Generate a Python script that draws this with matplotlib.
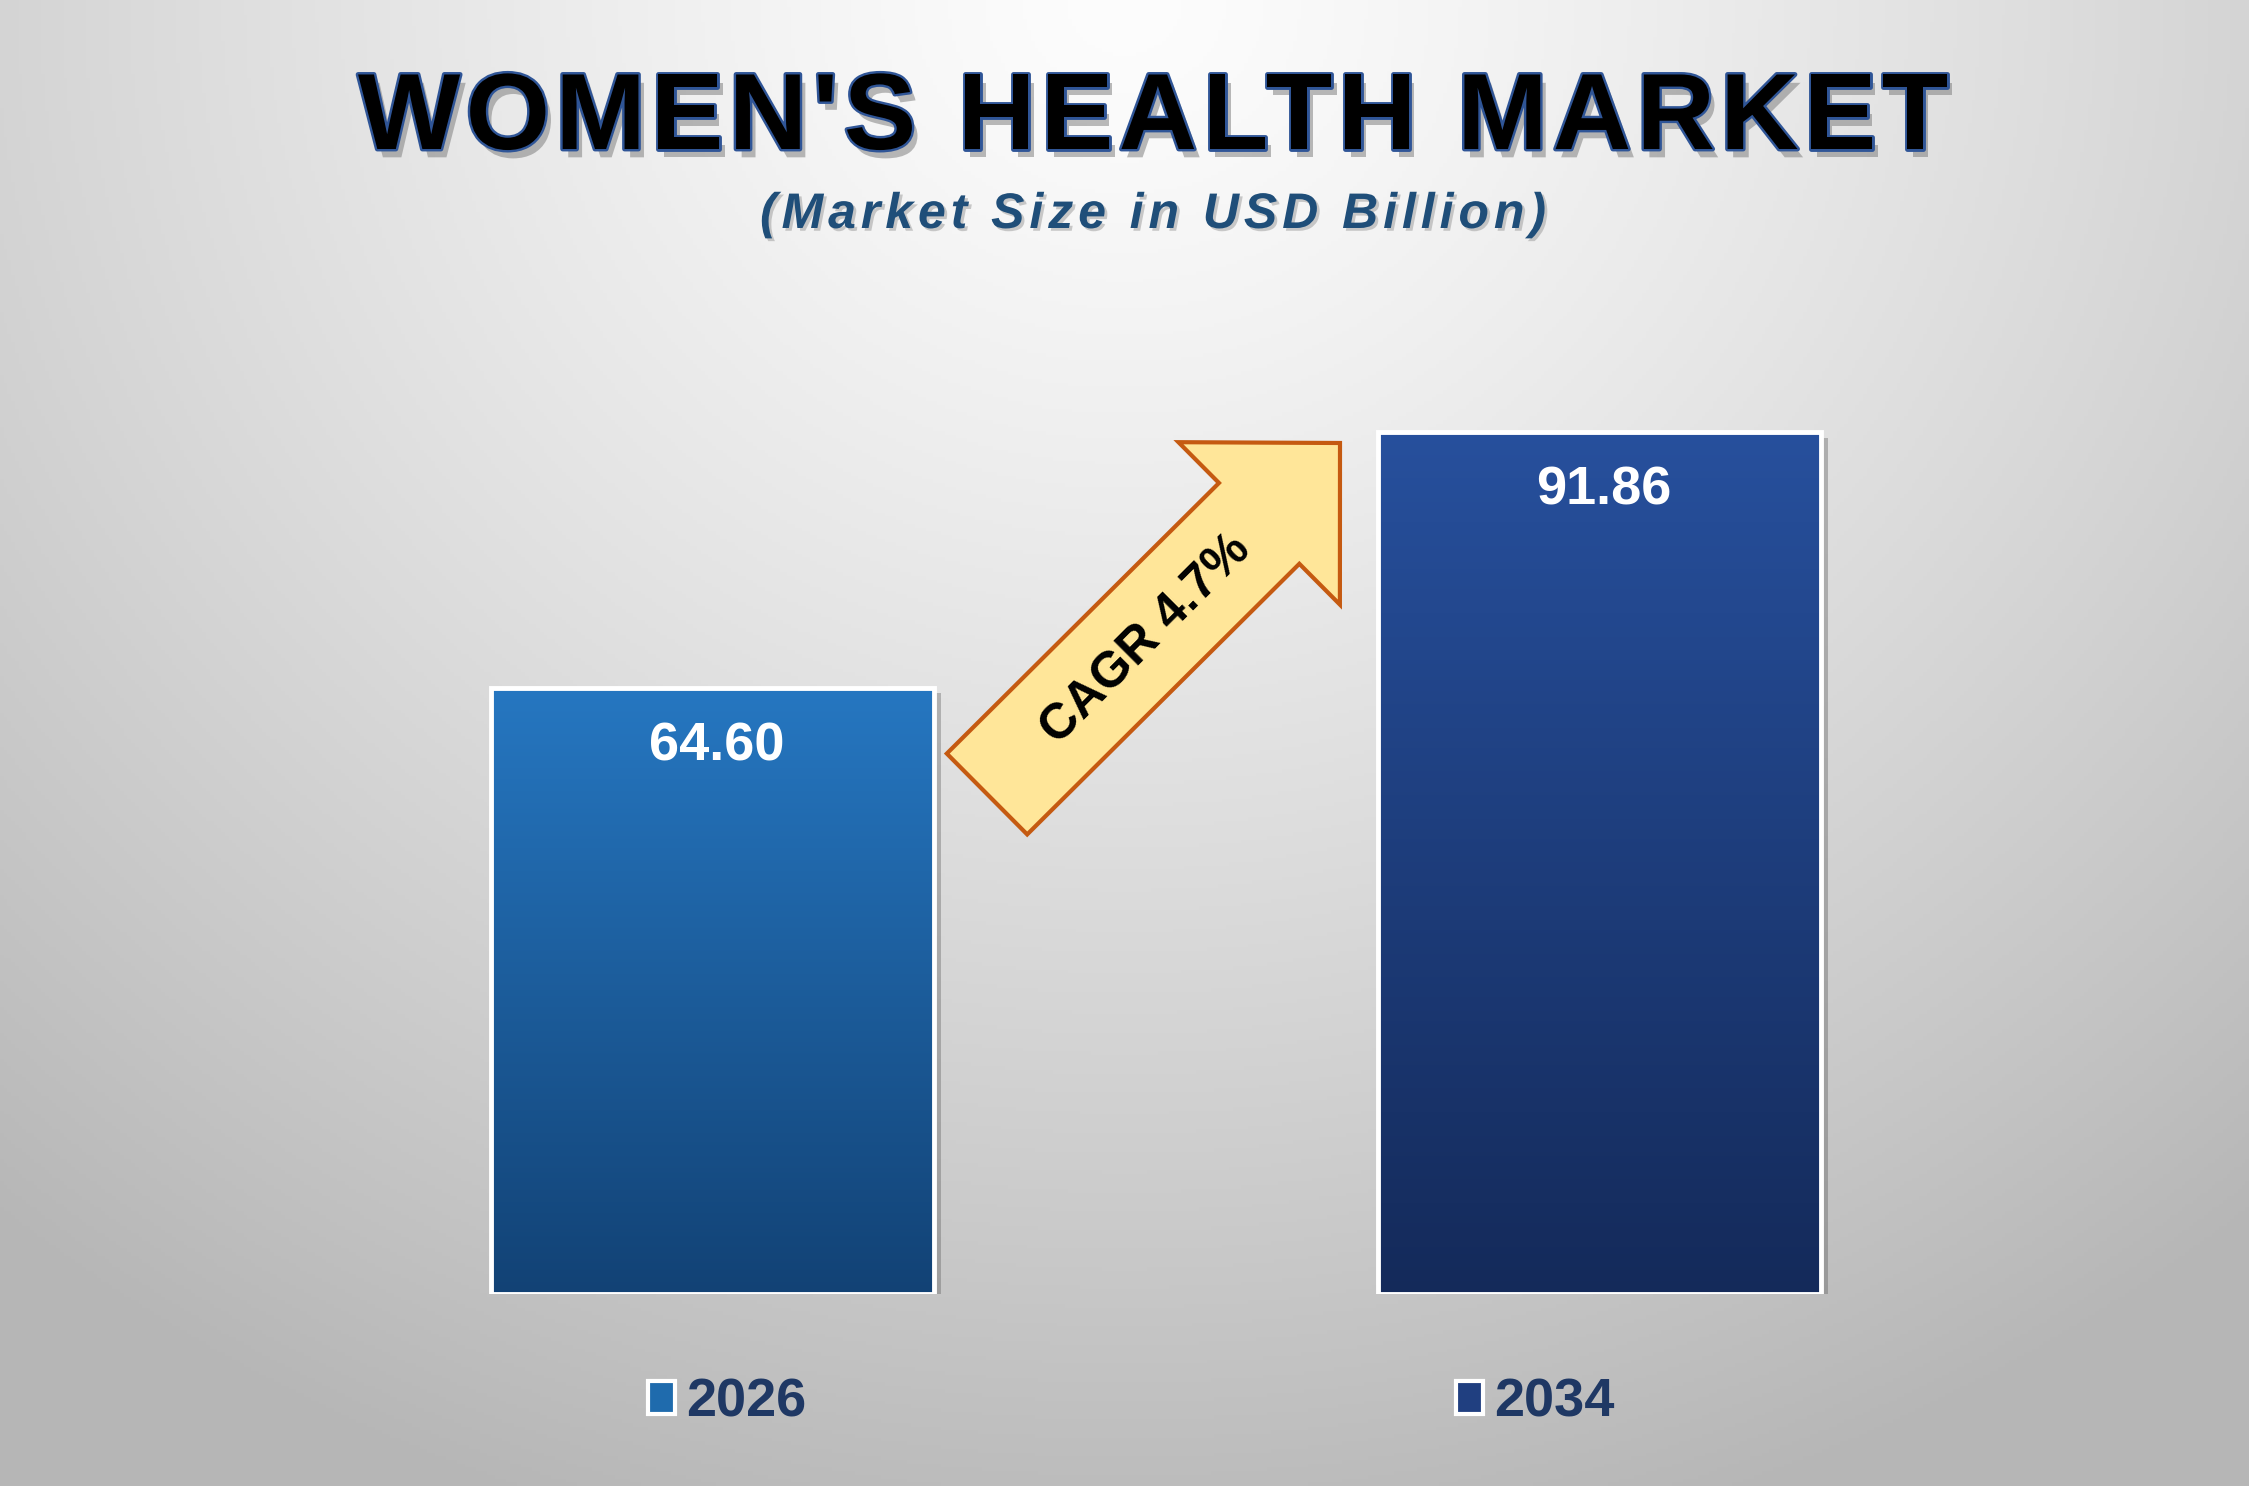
import numpy as np
import matplotlib
matplotlib.use("Agg")
import matplotlib.pyplot as plt
import matplotlib.patheffects as pe
from matplotlib.colors import LinearSegmentedColormap, to_rgb
from matplotlib.patches import FancyArrow, Patch, Rectangle
from matplotlib.font_manager import FontProperties

plt.rcParams['font.family'] = ['Liberation Sans', 'DejaVu Sans']

# Datos
years = ['2026', '2034']
values = [64.60, 91.86]
cagr_label = 'CAGR 4.7%'
title = "WOMEN'S HEALTH MARKET"
subtitle = '(Market Size in USD Billion)'

# Colores (arriba, abajo) del degradado de cada barra
bar_top = ['#2677c1', '#27509d']
bar_bottom = ['#124275', '#142a5a']
legend_colors = ['#1f6bad', '#203f80']

W, H = 2249, 1486
fig = plt.figure(figsize=(W / 100, H / 100), dpi=100)

# Fondo con degradado radial
bg = fig.add_axes([0, 0, 1, 1])
bg.set_axis_off()
yy, xx = np.mgrid[0:1:400j, 0:1:600j]
d = np.sqrt(((xx - 0.5) / 0.78) ** 2 + (yy / 1.08) ** 2)
d = np.clip(d, 0, 1) ** 1.25
c0, c1 = np.array(to_rgb('#fdfdfd')), np.array(to_rgb('#b6b6b6'))
img = c0[None, None, :] * (1 - d[..., None]) + c1[None, None, :] * d[..., None]
bg.imshow(img, extent=[0, 1, 1, 0], aspect='auto')
bg.set_xlim(0, 1)
bg.set_ylim(1, 0)

# Ejes principales (barras)
base_px = 192
ax = fig.add_axes([0, base_px / H, 1, 1 - base_px / H])
ax.patch.set_alpha(0)
ax.set_axis_off()
x = np.arange(len(years))
bars = ax.bar(x, values, width=0.5, color=legend_colors, zorder=1,
              path_effects=[pe.SimplePatchShadow(offset=(5, -4), shadow_rgbFace='#555555', alpha=0.35),
                            pe.Normal()])
for i, b in enumerate(bars):
    cmap = LinearSegmentedColormap.from_list('g%d' % i, [bar_bottom[i], bar_top[i]])
    grad = np.linspace(1, 0, 256).reshape(-1, 1)
    x0, y0 = b.get_xy()
    ax.imshow(grad, extent=[x0, x0 + b.get_width(), y0, y0 + b.get_height()],
              aspect='auto', cmap=cmap, clip_path=b, zorder=2)
    ax.add_patch(Rectangle(b.get_xy(), b.get_width(), b.get_height(), fill=False,
                           ec='white', lw=3.5, zorder=3))
    ax.annotate(f'{values[i]:.2f}', xy=(x[i], values[i]), xytext=(3, -42),
                textcoords='offset points', ha='center', va='center',
                color='white', fontsize=39, fontweight='bold', zorder=4)

ax.set_xlim(-0.803, 1.732)
ax.set_ylim(0, max(values) * (H - base_px) / 862)

# Leyenda
handles = [Patch(facecolor=c, edgecolor='white', linewidth=3) for c in legend_colors]
leg = ax.legend(handles, years, loc='center', bbox_to_anchor=(0.503, 0.056),
                bbox_transform=fig.transFigure, ncol=2, frameon=False,
                prop={'size': 39, 'weight': 'bold'}, labelcolor='#1f3864',
                handlelength=0.5, handleheight=0.55, handletextpad=0.2,
                columnspacing=12.0)

# Flecha CAGR (en píxeles de la figura)
ov = fig.add_axes([0, 0, 1, 1])
ov.patch.set_alpha(0)
ov.set_axis_off()
ov.set_xlim(0, W)
ov.set_ylim(H, 0)
tail = (987, 794)
tip = (1340, 443)
ov.add_patch(FancyArrow(tail[0], tail[1], tip[0] - tail[0], tip[1] - tail[1],
                        width=114, head_width=229, head_length=114,
                        length_includes_head=True, fc='#ffe699', ec='#c55a11', lw=3))
ov.text(1146, 640, cagr_label, rotation=45, rotation_mode='anchor', ha='center',
        va='center', fontsize=36, fontweight='bold', color='black')

renderer = fig.canvas.get_renderer()


def spaced_text(s, xc, yc, target_w, fp, **kw):
    # coloca cada letra con espaciado extra para ocupar target_w píxeles
    def tw(t):
        return renderer.get_text_width_height_descent(t, fp, ismath=False)[0]
    tracking = (target_w - tw(s)) / (len(s) - 1)
    x_start = xc - target_w / 2
    for i, ch in enumerate(s):
        if ch == ' ':
            continue
        xi = x_start + tw(s[:i + 1]) - tw(ch) + i * tracking
        ov.text(xi, yc, ch, ha='left', va='center', fontproperties=fp, **kw)


# Título
fp_title = FontProperties(family='Liberation Sans', size=78, weight='bold')
spaced_text(title, 1153, 121, 1590, fp_title, color='black',
            path_effects=[pe.SimplePatchShadow(offset=(4, -6), shadow_rgbFace='#777777', alpha=0.5),
                          pe.Stroke(linewidth=3.5, foreground='#2f5597'), pe.Normal()])

# Subtítulo
fp_sub = FontProperties(family='Liberation Sans', size=36, weight='bold', style='italic')
spaced_text(subtitle, 1153, 215, 786, fp_sub, color='#1f4e79',
            path_effects=[pe.SimplePatchShadow(offset=(2, -2), shadow_rgbFace='#999999', alpha=0.5),
                          pe.Normal()])

fig.savefig('out.png', dpi=100)
